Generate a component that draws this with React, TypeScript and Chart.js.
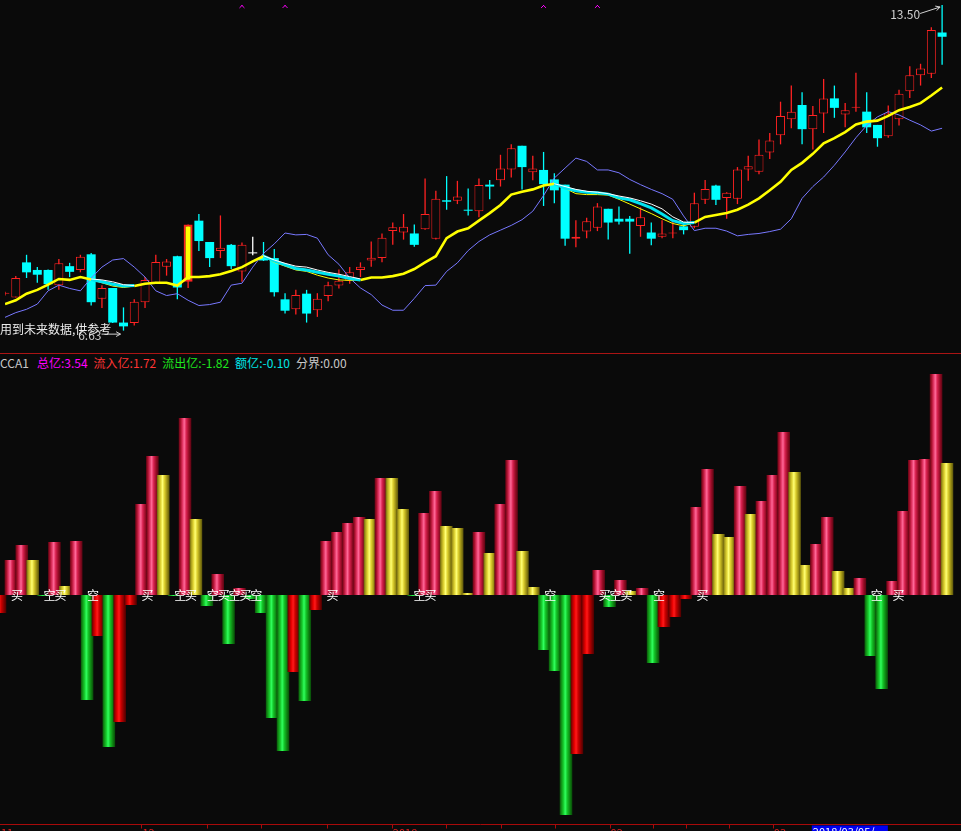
import React, { useEffect, useRef } from "react";
import { Chart, registerables } from "chart.js";

Chart.register(...registerables);

const N = null;

// ---- daily candles (price) ----
const opens = [
  7.41, 7.33, 8.07, 7.91, 7.91, 7.59, 7.99, 7.91, 8.24, 7.3,
  7.53, 6.8, 6.79, 7.23, 7.64, 7.98, 8.2, 7.66, 8.95, 8.5,
  8.31, 8.44, 7.88, 8.26, 8.17, 8.16, 7.29, 7.08, 7.41, 7.06,
  7.36, 7.58, 7.68, 7.91, 8.11, 8.16, 8.73, 8.7, 8.68, 8.77,
  8.57, 9.38, 9.37, 9.18, 9.15, 9.71, 9.8, 10.03, 10.53, 9.97,
  10.02, 9.82, 9.71, 8.57, 8.72, 8.8, 9.2, 8.99, 8.99, 8.84,
  8.7, 8.61, 8.68, 8.83, 8.82, 9.39, 9.69, 9.43, 9.41, 10.03,
  9.98, 10.39, 10.75, 11.09, 11.39, 10.88, 11.21, 11.53, 11.19, 11.33,
  11.25, 10.97, 10.73, 11.09, 11.68, 12.02, 12.05, 12.92,
];
const closes = [
  7.43, 7.74, 7.86, 7.81, 7.61, 8.05, 7.87, 8.19, 7.23, 7.53,
  6.8, 6.72, 7.24, 7.7, 8.08, 8.09, 7.54, 8.87, 8.52, 8.16,
  8.38, 7.99, 8.44, 8.26, 8.11, 7.44, 7.05, 7.38, 6.99, 7.3,
  7.59, 7.68, 7.86, 7.98, 8.17, 8.59, 8.81, 8.82, 8.44, 9.09,
  9.41, 9.35, 9.46, 9.16, 9.7, 9.67, 10.05, 10.48, 10.08, 10.05,
  9.72, 9.59, 8.57, 8.61, 8.94, 9.25, 8.91, 8.93, 8.93, 9.02,
  8.57, 8.68, 8.7, 8.75, 9.32, 9.62, 9.39, 9.54, 10.03, 10.1,
  10.34, 10.64, 11.16, 11.25, 10.88, 11.18, 11.53, 11.33, 11.28, 11.35,
  10.92, 10.69, 11.21, 11.63, 12.02, 12.16, 12.97, 12.83,
];
const highs = [
  7.45, 7.78, 8.23, 7.97, 7.92, 8.14, 8.06, 8.23, 8.27, 7.59,
  7.53, 7.12, 7.29, 7.76, 8.23, 8.14, 8.21, 8.87, 9.09, 8.5,
  9.06, 8.46, 8.49, 8.61, 8.5, 8.35, 7.42, 7.49, 7.49, 7.42,
  7.66, 7.92, 7.97, 8.07, 8.51, 8.68, 8.91, 9.09, 8.87, 9.84,
  9.58, 9.89, 9.79, 9.63, 9.84, 9.81, 10.34, 10.56, 10.53, 10.32,
  10.4, 9.95, 9.71, 8.96, 9.01, 9.32, 9.2, 9.25, 9.05, 9.23,
  8.91, 8.96, 8.92, 8.92, 9.54, 9.81, 9.71, 9.55, 10.08, 10.32,
  10.66, 10.8, 11.46, 11.8, 11.66, 11.37, 11.94, 11.8, 11.43, 12.07,
  11.66, 10.97, 11.38, 11.71, 12.21, 12.26, 13.03, 13.5,
];
const lows = [
  7.37, 7.33, 7.74, 7.64, 7.49, 7.49, 7.76, 7.86, 7.16, 7.11,
  6.79, 6.63, 6.74, 7.11, 7.62, 7.79, 7.29, 7.53, 8.31, 7.97,
  8.16, 7.93, 7.66, 8.22, 8.1, 7.35, 6.99, 6.97, 6.8, 6.92,
  7.25, 7.52, 7.62, 7.76, 7.98, 8.07, 8.44, 8.55, 8.4, 8.76,
  8.55, 9.18, 9.3, 9.06, 9.02, 9.4, 9.67, 9.86, 9.61, 9.8,
  9.26, 9.32, 8.42, 8.39, 8.58, 8.73, 8.55, 8.87, 8.25, 8.61,
  8.43, 8.58, 8.58, 8.66, 8.79, 9.3, 9.28, 8.99, 9.3, 9.79,
  9.93, 10.25, 10.56, 10.9, 10.56, 10.45, 10.8, 11.12, 10.92, 11.25,
  10.8, 10.51, 10.7, 10.96, 11.54, 11.8, 11.96, 12.24,
];
const limitUpDays = [17];

// ---- moving averages ----
const maMain = [
  7.19, 7.27, 7.41, 7.49, 7.6, 7.72, 7.7, 7.76, 7.71, 7.64,
  7.57, 7.54, 7.57, 7.62, 7.64, 7.64, 7.58, 7.76, 7.76, 7.78,
  7.82, 7.89, 7.97, 8.09, 8.2, 8.07, 7.99, 7.91, 7.88, 7.8,
  7.74, 7.7, 7.69, 7.7, 7.75, 7.75, 7.78, 7.83, 7.93, 8.07,
  8.2, 8.58, 8.72, 8.79, 8.95, 9.11, 9.28, 9.5, 9.56, 9.61,
  9.69, 9.73, 9.63, 9.52, 9.5, 9.5, 9.49, 9.4, 9.3, 9.2,
  9.1, 8.99, 8.89, 8.84, 8.91, 9.03, 9.07, 9.11, 9.18, 9.29,
  9.42, 9.59, 9.77, 10.02, 10.17, 10.36, 10.58, 10.69, 10.82, 10.98,
  11.04, 11.06, 11.16, 11.28, 11.35, 11.43, 11.59, 11.76,
];
const maCyan = [
  N, N, N, N, N, N, N, N, 7.71, 7.66,
  7.61, 7.57, 7.58, N, N, N, N, N, N, N,
  N, N, N, N, 8.2, 8.1, 8.02, 7.94, 7.91, 7.86,
  7.82, 7.78, 7.73, 7.7, N, N, N, N, N, N,
  N, N, N, N, N, N, N, N, N, N,
  N, 9.73, 9.64, 9.58, 9.55, 9.54, 9.51, 9.43, 9.39, 9.31,
  9.22, 9.09, 8.95, 8.89, 8.91, N, N, N, N, N,
  N, N, N, N, N, N, N, N, N, N,
  N, N, N, N, N, N, N, N,
];
const maWhite = [
  N, N, N, N, N, N, N, N, 7.72, 7.7,
  7.66, 7.6, 7.58, N, N, N, N, N, N, N,
  N, N, N, N, 8.21, 8.12, 8.05, 7.99, 7.97, 7.91,
  7.86, 7.82, 7.77, 7.72, N, N, N, N, N, N,
  N, N, N, N, N, N, N, N, N, N,
  N, 9.73, 9.67, 9.61, 9.57, 9.55, 9.52, 9.47, 9.43, 9.37,
  9.3, 9.2, 9.03, 8.92, 8.91, N, N, N, N, N,
  N, N, N, N, N, N, N, N, N, N,
  N, N, N, N, N, N, N, N,
];
const maSlow = [
  6.91, 7.01, 7.08, 7.19, 7.47, 7.59, 7.52, 7.47, 7.74, 7.97,
  8.12, 8.15, 7.97, 7.76, 7.47, 7.37, 7.41, 7.27, 7.16, 7.18,
  7.23, 7.59, 7.63, 7.97, 8.26, 8.46, 8.69, 8.65, 8.66, 8.58,
  8.23, 8.03, 7.74, 7.53, 7.39, 7.17, 7.06, 7.06, 7.31, 7.58,
  7.59, 7.88, 8.06, 8.32, 8.51, 8.65, 8.75, 8.85, 8.97, 9.15,
  9.48, 9.85, 10.06, 10.27, 10.2, 10.02, 10.02, 9.96, 9.82, 9.71,
  9.61, 9.52, 9.4, 9.05, 8.74, 8.79, 8.79, 8.73, 8.63, 8.66,
  8.68, 8.72, 8.77, 8.99, 9.42, 9.67, 9.87, 10.12, 10.4, 10.7,
  10.96, 11.14, 11.25, 11.18, 11.07, 10.97, 10.84, 10.9,
];
const topMarkDays = [22, 26, 50, 55];
const topMarkLevel = 13.49;

// ---- CCA1 money flow ----
const flowValues = [
  -0.18, 0.35, 0.5, 0.35, -0.01, 0.53, 0.09, 0.54, -1.05, -0.41,
  -1.52, -1.27, -0.1, 0.91, 1.39, 1.2, -0.01, 1.77, 0.76, -0.11,
  0.21, -0.49, 0.07, -0.04, -0.18, -1.23, -1.56, -0.77, -1.06, -0.15,
  0.54, 0.63, 0.72, 0.78, 0.76, 1.17, 1.17, 0.86, -0.01, 0.82,
  1.04, 0.69, 0.67, 0.02, 0.63, 0.42, 0.91, 1.35, 0.44, 0.08,
  -0.55, -0.76, -2.2, -1.59, -0.59, 0.25, -0.12, 0.15, 0.04, 0.07,
  -0.68, -0.32, -0.22, -0.04, 0.88, 1.26, 0.61, 0.58, 1.09, 0.81,
  0.94, 1.2, 1.63, 1.23, 0.3, 0.51, 0.78, 0.24, 0.07, 0.17,
  -0.61, -0.94, 0.14, 0.84, 1.35, 1.36, 2.21, 1.32,
];
const flowKinds = [
  "D", "R", "R", "Y", "G", "R", "Y", "R", "G", "D",
  "G", "D", "D", "R", "R", "Y", "G", "R", "Y", "G",
  "R", "G", "R", "G", "G", "G", "G", "D", "G", "D",
  "R", "R", "R", "R", "Y", "R", "Y", "Y", "G", "R",
  "R", "Y", "Y", "Y", "R", "Y", "R", "R", "Y", "Y",
  "G", "G", "G", "D", "D", "R", "G", "R", "Y", "R",
  "G", "D", "D", "D", "R", "R", "Y", "Y", "R", "Y",
  "R", "R", "R", "Y", "Y", "R", "R", "Y", "Y", "R",
  "G", "G", "R", "R", "R", "R", "R", "Y",
];
const signalDays = [1, 4, 5, 8, 13, 16, 17, 19, 20, 21, 22, 23, 30, 38, 39, 50, 55, 56, 57, 60, 64, 80, 82];
const signalTexts = ["买", "空", "买", "空", "买", "空", "买", "空", "买", "空", "买", "空", "买", "空", "买", "空", "买", "空", "买", "空", "买", "空", "买"];

const legendLabels = ["总亿", "流入亿", "流出亿", "额亿", "分界"];
const legendValues = ["3.54", "1.72", "-1.82", "-0.10", "0.00"];
const legendColors = ["#ff00ff", "#ff3434", "#1ee61e", "#00e6e6", "#c8c8c8"];

const axisTickDays = [13, 19, 24, 30, 36, 41, 46, 51, 56, 60, 63, 67, 71];
const axisLabelDays = [0, 13, 36, 56, 71];
const axisLabelTexts = ["11", "12", "2018", "02", "03"];
const cursorDay = 75;
const cursorText = "2018/03/05/一";

// ---- styling ----
const BG = "#0a0a0a";
const FONT = '"Noto Sans CJK SC", "Noto Sans", sans-serif';
const X_MAX = 88.29;
const STOPS = [0, 0.15, 0.3, 0.44, 0.6, 0.8, 1];
const GRAD: Record<string, string[]> = {
  R: ["#640414", "#a8102c", "#e03462", "#ff6898", "#d82250", "#980c26", "#5a0412"],
  Y: ["#6a600c", "#b0a41e", "#e2d636", "#ffff74", "#dccf2e", "#9c9014", "#5a540a"],
  G: ["#0a560a", "#129618", "#18cc2e", "#30ff5e", "#14c428", "#0e8612", "#084a08"],
  D: ["#5a0000", "#a80000", "#e80000", "#ff1a1a", "#cc0000", "#8a0000", "#4c0000"],
};

const idx = opens.map((_, i) => i);
const kinds = idx.map((i) =>
  limitUpDays.includes(i) ? "limit" : closes[i] > opens[i] ? "up" : closes[i] < opens[i] ? "down" : "flat"
);
const strokeOf: Record<string, string> = { up: "#ff2222", down: "#00ffff", flat: "#ffffff", limit: "#ff2222" };
const fillOf: Record<string, string> = { up: BG, down: "#00ffff", flat: "#ffffff", limit: "#ffff00" };
const borderOf: Record<string, number> = { up: 1, down: 0, flat: 0, limit: 2 };

function arrow(ctx: CanvasRenderingContext2D, x1: number, y1: number, x2: number, y2: number) {
  ctx.beginPath();
  ctx.moveTo(x1, y1);
  ctx.lineTo(x2, y2);
  const a = Math.atan2(y2 - y1, x2 - x1);
  ctx.moveTo(x2, y2);
  ctx.lineTo(x2 - 5 * Math.cos(a - 0.5), y2 - 5 * Math.sin(a - 0.5));
  ctx.moveTo(x2, y2);
  ctx.lineTo(x2 - 5 * Math.cos(a + 0.5), y2 - 5 * Math.sin(a + 0.5));
  ctx.stroke();
}

const topLabelsPlugin = {
  id: "topLabels",
  afterDatasetsDraw(chart: any) {
    const { ctx, scales } = chart;
    const xs = scales.x;
    const ys = scales.y;
    ctx.save();
    ctx.font = "12px " + FONT;
    ctx.strokeStyle = "#d0d0d0";
    ctx.fillStyle = "#d0d0d0";
    ctx.lineWidth = 1;
    const hi = Math.max(...highs);
    const iHi = highs.indexOf(hi);
    const hx = xs.getPixelForValue(iHi);
    const hy = ys.getPixelForValue(hi);
    arrow(ctx, hx - 22, hy + 8.5, hx - 2, hy + 2);
    ctx.textAlign = "right";
    ctx.textBaseline = "middle";
    ctx.fillText(hi.toFixed(2), hx - 22, hy + 9);
    const lo = Math.min(...lows);
    const iLo = lows.indexOf(lo);
    const lx = xs.getPixelForValue(iLo);
    const ly = ys.getPixelForValue(lo);
    arrow(ctx, lx - 22, ly + 3.5, lx - 3, ly + 3.5);
    ctx.fillText(lo.toFixed(2), lx - 22, ly + 5);
    ctx.textAlign = "left";
    ctx.fillStyle = "#ececec";
    ctx.fillText("用到未来数据,供参考", 0, ly - 1);
    ctx.restore();
  },
};

const bottomPlugin = {
  id: "bottomDeco",
  afterDatasetsDraw(chart: any) {
    const { ctx, scales } = chart;
    const xs = scales.x;
    const ys = scales.y;
    const y0 = ys.getPixelForValue(0);
    ctx.save();
    ctx.font = "12px " + FONT;
    ctx.fillStyle = "#ffffff";
    ctx.textAlign = "left";
    ctx.textBaseline = "middle";
    signalDays.forEach((d, k) => {
      ctx.fillText(signalTexts[k], xs.getPixelForValue(d), y0 + 0.5);
    });
    ctx.restore();
  },
  afterDraw(chart: any) {
    const { ctx, scales, chartArea } = chart;
    const xs = scales.x;
    const yb = Math.round(chartArea.bottom) + 0.5;
    ctx.save();
    ctx.strokeStyle = "#a80a0a";
    ctx.lineWidth = 1;
    ctx.beginPath();
    ctx.moveTo(0, yb);
    ctx.lineTo(chart.width, yb);
    axisTickDays.forEach((d) => {
      const x = Math.round(xs.getPixelForValue(d)) + 0.5;
      ctx.moveTo(x, yb);
      ctx.lineTo(x, yb + 4);
    });
    ctx.stroke();
    ctx.font = "11px " + FONT;
    ctx.textBaseline = "top";
    ctx.textAlign = "left";
    ctx.fillStyle = "#e02020";
    axisLabelDays.forEach((d, k) => {
      ctx.fillText(axisLabelTexts[k], xs.getPixelForValue(d) + 1, yb + 3);
    });
    const cx = xs.getPixelForValue(cursorDay) - 4.5;
    ctx.fillStyle = "#0000f0";
    ctx.fillRect(cx, yb + 1, 76, 12);
    ctx.fillStyle = "#ffffff";
    ctx.fillText(cursorText, cx + 1, yb + 2);
    ctx.restore();
  },
};

const gradFor = (c: any) => {
  const k = flowKinds[c.dataIndex] || "R";
  const chart = c.chart;
  const xs = chart && chart.scales ? chart.scales.x : null;
  if (c.type !== "data" || !xs) return GRAD[k][3];
  const cx = xs.getPixelForValue(c.dataIndex);
  if (!Number.isFinite(cx)) return GRAD[k][3];
  const g = chart.ctx.createLinearGradient(cx - 6.3, 0, cx + 6.3, 0);
  GRAD[k].forEach((col, j) => g.addColorStop(STOPS[j], col));
  return g;
};

export default function App() {
  const topRef = useRef<HTMLCanvasElement | null>(null);
  const botRef = useRef<HTMLCanvasElement | null>(null);

  useEffect(() => {
    if (!topRef.current || !botRef.current) return;
    const inBand = (i: number) => maCyan[i] !== null && maCyan[i] !== undefined;

    const top = new Chart(topRef.current, {
      type: "bar",
      data: {
        datasets: [
          {
            type: "scatter",
            data: topMarkDays.map((d) => ({ x: d, y: topMarkLevel })),
            pointStyle: "crossRot",
            pointRadius: 3.5,
            borderColor: "#ff00ff",
            backgroundColor: "#ff00ff",
            borderWidth: 1,
            order: 0,
          } as any,
          {
            type: "line",
            data: idx.map((i) => ({ x: i, y: maWhite[i] })),
            borderColor: "#ffffff",
            borderWidth: 1,
            pointRadius: 0,
            tension: 0,
            order: 1,
          } as any,
          {
            type: "line",
            data: idx.map((i) => ({ x: i, y: maCyan[i] })),
            borderColor: "#00e4f0",
            borderWidth: 3,
            pointRadius: 0,
            tension: 0,
            order: 2,
          } as any,
          {
            type: "line",
            data: idx.map((i) => ({ x: i, y: maMain[i] })),
            borderColor: "#ffff00",
            borderWidth: 2.6,
            pointRadius: 0,
            tension: 0,
            order: 3,
            segment: {
              borderWidth: (s: any) => (inBand(s.p0DataIndex) && inBand(s.p1DataIndex) ? 1 : 2.6),
            },
          } as any,
          {
            type: "line",
            data: idx.map((i) => ({ x: i, y: maSlow[i] })),
            borderColor: "#7878ff",
            borderWidth: 1,
            pointRadius: 0,
            tension: 0,
            order: 4,
          } as any,
          {
            type: "bar",
            data: idx.map((i) => ({ x: i, y: [opens[i], closes[i]] })),
            backgroundColor: idx.map((i) => fillOf[kinds[i]]),
            borderColor: idx.map((i) => strokeOf[kinds[i]]),
            borderWidth: idx.map((i) => borderOf[kinds[i]]),
            borderSkipped: false,
            barThickness: 9,
            minBarLength: 1,
            grouped: false,
            inflateAmount: 0,
            order: 5,
          } as any,
          {
            type: "bar",
            data: idx.map((i) => ({ x: i, y: [lows[i], highs[i]] })),
            backgroundColor: idx.map((i) => strokeOf[kinds[i]]),
            borderWidth: 0,
            barThickness: 1.3,
            grouped: false,
            inflateAmount: 0,
            order: 6,
          } as any,
        ],
      },
      options: {
        responsive: false,
        animation: false,
        events: [],
        layout: { padding: 0 },
        plugins: { legend: { display: false }, tooltip: { enabled: false } },
        scales: {
          x: { type: "linear", min: 0, max: X_MAX, offset: false, display: false },
          y: { type: "linear", min: 6.2635, max: 13.5, display: false },
        },
      } as any,
      plugins: [topLabelsPlugin],
    });

    const bottom = new Chart(botRef.current, {
      type: "bar",
      data: {
        datasets: [
          {
            data: idx.map((i) => ({ x: i, y: flowValues[i] })),
            backgroundColor: gradFor,
            borderWidth: 0,
            barThickness: 12.6,
            grouped: false,
            inflateAmount: 0,
          } as any,
        ],
      },
      options: {
        responsive: false,
        animation: false,
        events: [],
        layout: { padding: { top: 15, bottom: 7, left: 0, right: 0 } },
        plugins: { legend: { display: false }, tooltip: { enabled: false } },
        scales: {
          x: { type: "linear", min: 0, max: X_MAX, offset: false, display: false },
          y: { type: "linear", min: -2.29, max: 2.25, display: false },
        },
      } as any,
      plugins: [bottomPlugin],
    });

    return () => {
      top.destroy();
      bottom.destroy();
    };
  }, []);

  return (
    <div
      style={{
        position: "fixed",
        left: 0,
        top: 0,
        width: 961,
        height: 831,
        background: BG,
        overflow: "hidden",
      }}
    >
      <canvas ref={topRef} width={961} height={353} style={{ position: "absolute", left: 0, top: 0, display: "block" }} />
      <div style={{ position: "absolute", left: 0, top: 353, width: 961, height: 1, background: "#aa1414" }} />
      <div
        style={{
          position: "absolute",
          left: 0,
          top: 355,
          height: 15,
          lineHeight: "15px",
          fontSize: 12,
          fontFamily: FONT,
          whiteSpace: "nowrap",
        }}
      >
        <span style={{ color: "#c8c8c8" }}>CCA1</span>
        {legendLabels.map((l, k) => (
          <span key={l} style={{ color: legendColors[k], marginLeft: k === 0 ? 8 : 6 }}>
            {l}:{legendValues[k]}
          </span>
        ))}
      </div>
      <canvas ref={botRef} width={961} height={476} style={{ position: "absolute", left: 0, top: 355, display: "block" }} />
    </div>
  );
}
